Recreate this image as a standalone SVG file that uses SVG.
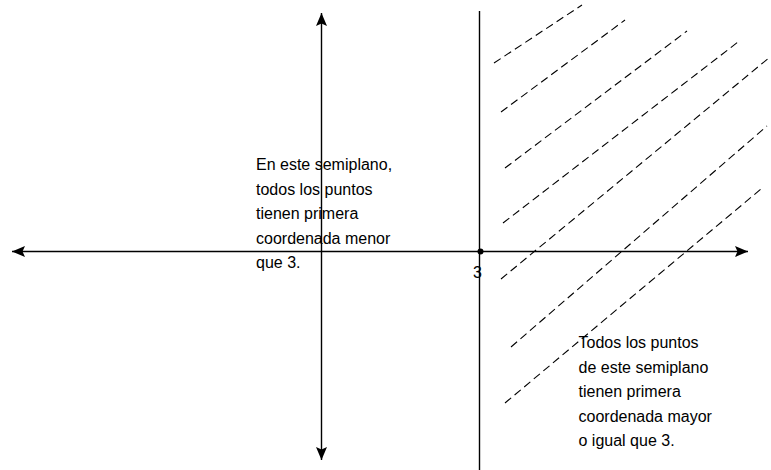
<svg xmlns="http://www.w3.org/2000/svg" width="771" height="470" viewBox="0 0 771 470">
  <style>
    .axis { stroke: #000; stroke-width: 1.4; fill: none; }
    .hatch { stroke: #000; stroke-width: 1.1; fill: none; stroke-dasharray: 8 4.5; }
    .label { font-family: "Liberation Sans", Arial, sans-serif; font-size: 16px; fill: #000; }
  </style>
  <defs>
    <marker id="arrow" viewBox="-14 -6 16 12" refX="0" refY="0" markerWidth="16" markerHeight="12" markerUnits="userSpaceOnUse" orient="auto-start-reverse">
      <path d="M0,0 L-13,-5.5 L-10.5,0 L-13,5.5 Z" fill="#000"/>
    </marker>
  </defs>
  <rect width="771" height="470" fill="#fff"/>
  <g id="connectors">
    <line id="x-axis" class="axis" x1="12" y1="251.5" x2="748" y2="251.5" marker-start="url(#arrow)" marker-end="url(#arrow)"/>
    <line id="y-axis" class="axis" x1="321.5" y1="13" x2="321.5" y2="460" marker-start="url(#arrow)" marker-end="url(#arrow)"/>
    <line id="line-x3" class="axis" x1="479.5" y1="11" x2="479.5" y2="470"/>
  </g>
  <g id="hatching">
    <line class="hatch" x1="494" y1="63" x2="582" y2="5"/>
    <line class="hatch" x1="501" y1="112" x2="625" y2="20"/>
    <line class="hatch" x1="505" y1="168" x2="687" y2="31"/>
    <line class="hatch" x1="503" y1="223" x2="738" y2="42"/>
    <line class="hatch" x1="501" y1="279" x2="770" y2="57"/>
    <line class="hatch" x1="511" y1="347" x2="767" y2="126"/>
    <line class="hatch" x1="505" y1="403" x2="761" y2="189"/>
  </g>
  <g id="point-3">
    <circle cx="480.5" cy="251.5" r="3" fill="#000"/>
    <text class="label" x="473" y="278">3</text>
  </g>
  <g id="text-left">
    <text class="label" x="256" y="170">En este semiplano,</text>
    <text class="label" x="256" y="194.5">todos los puntos</text>
    <text class="label" x="256" y="219">tienen primera</text>
    <text class="label" x="256" y="243.5">coordenada menor</text>
    <text class="label" x="256" y="268">que 3.</text>
  </g>
  <g id="text-right">
    <text class="label" x="578.5" y="348.3">Todos los puntos</text>
    <text class="label" x="578.5" y="372.8">de este semiplano</text>
    <text class="label" x="578.5" y="397.3">tienen primera</text>
    <text class="label" x="578.5" y="421.8">coordenada mayor</text>
    <text class="label" x="578.5" y="446.3">o igual que 3.</text>
  </g>
</svg>
